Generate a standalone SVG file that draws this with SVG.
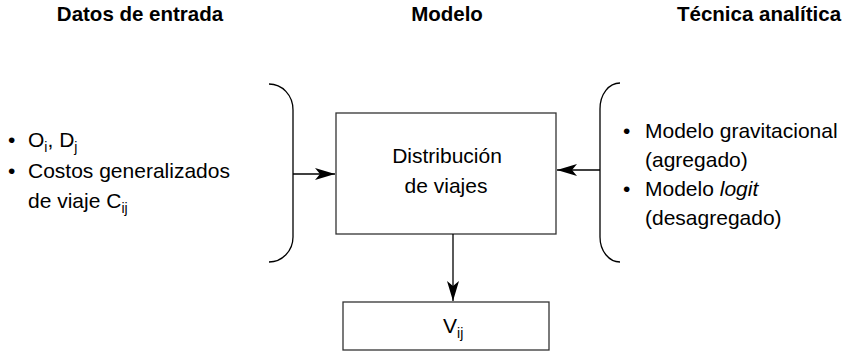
<svg xmlns="http://www.w3.org/2000/svg" width="853" height="353" viewBox="0 0 853 353">
<style>
text{font-family:"Liberation Sans",Arial,sans-serif;fill:#000}
.t{font-size:20.5px;font-weight:bold;text-anchor:middle}
.b{font-size:21px}
.s{font-size:14px}
.box{fill:#fff;stroke:#333;stroke-width:1.3}
.br{fill:none;stroke:#000;stroke-width:1.3}
.ln{fill:none;stroke:#000;stroke-width:1.3}
</style>
<defs>
<marker id="ah" viewBox="0 0 20 12" refX="20" refY="6" markerWidth="20" markerHeight="12" markerUnits="userSpaceOnUse" orient="auto">
<path d="M0,0 L20,6 L0,12 L5,6 Z" fill="#000"/>
</marker>
</defs>
<g id="titles">
<text class="t" x="140" y="21">Datos de entrada</text>
<text class="t" x="447" y="21">Modelo</text>
<text class="t" x="759" y="21">Técnica analítica</text>
</g>
<g id="input">
<text class="b" x="8" y="147">•</text>
<text class="b" x="28" y="147">O<tspan class="s" dy="5">i</tspan><tspan dy="-5">, D</tspan><tspan class="s" dy="5">j</tspan></text>
<text class="b" x="8" y="178">•</text>
<text class="b" x="28" y="178">Costos generalizados</text>
<text class="b" x="28" y="208">de viaje C<tspan class="s" dy="5">ij</tspan></text>
<path class="br" d="M269,84 C282,84 293,95 293,110 L293,237 C293,251 282,262 269,262"/>
</g>
<g id="technique">
<path class="br" d="M620,83 C609,83 600,94 600,109 L600,237 C600,251 609,262 620,262"/>
<text class="b" x="623" y="138">•</text>
<text class="b" x="645" y="138">Modelo gravitacional</text>
<text class="b" x="645" y="167">(agregado)</text>
<text class="b" x="623" y="196">•</text>
<text class="b" x="645" y="196">Modelo <tspan font-style="italic">logit</tspan></text>
<text class="b" x="645" y="225">(desagregado)</text>
</g>
<g id="model">
<rect class="box" x="336" y="113" width="220" height="121"/>
<text class="b" x="447" y="163" text-anchor="middle">Distribución</text>
<text class="b" x="446" y="193" text-anchor="middle">de viajes</text>
</g>
<g id="output">
<rect class="box" x="343" y="302" width="206" height="48"/>
<text class="b" x="443" y="333">V<tspan class="s" dy="5">ij</tspan></text>
</g>
<g id="connectors">
<line class="ln" x1="293" y1="174" x2="335" y2="174" marker-end="url(#ah)"/>
<line class="ln" x1="600" y1="170" x2="557" y2="170" marker-end="url(#ah)"/>
<line class="ln" x1="453" y1="234" x2="453" y2="301" marker-end="url(#ah)"/>
</g>
</svg>
